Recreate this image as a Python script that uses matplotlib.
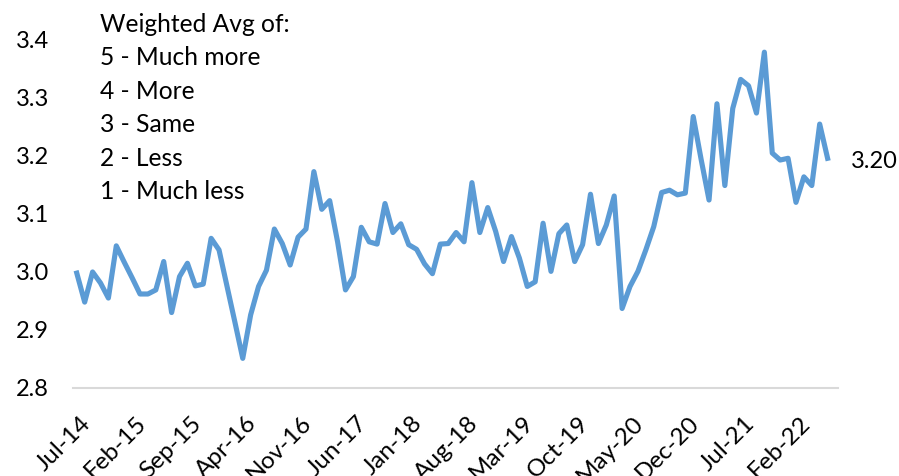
import matplotlib
matplotlib.use('Agg')
import matplotlib.pyplot as plt
import matplotlib.transforms as mtransforms

# monthly weighted average, Jul-14 .. Jun-22
values = [
    2.998, 2.948, 3.000, 2.981, 2.955, 3.045, 3.017, 2.990, 2.962, 2.962,
    2.969, 3.018, 2.930, 2.992, 3.015, 2.976, 2.979, 3.058, 3.038, 2.976,
    2.914, 2.851, 2.926, 2.975, 3.003, 3.074, 3.049, 3.012, 3.060, 3.074,
    3.173, 3.108, 3.123, 3.052, 2.969, 2.992, 3.077, 3.052, 3.048, 3.118,
    3.068, 3.083, 3.047, 3.039, 3.014, 2.997, 3.048, 3.049, 3.068, 3.052,
    3.154, 3.068, 3.111, 3.070, 3.018, 3.061, 3.024, 2.975, 2.983, 3.084,
    3.001, 3.066, 3.081, 3.018, 3.047, 3.134, 3.049, 3.081, 3.131, 2.937,
    2.975, 3.001, 3.038, 3.078, 3.137, 3.141, 3.133, 3.136, 3.268, 3.194,
    3.124, 3.290, 3.149, 3.282, 3.332, 3.321, 3.274, 3.379, 3.205, 3.193,
    3.196, 3.120, 3.164, 3.149, 3.255, 3.196,
]
tick_labels = ['Jul-14', 'Feb-15', 'Sep-15', 'Apr-16', 'Nov-16', 'Jun-17', 'Jan-18',
               'Aug-18', 'Mar-19', 'Oct-19', 'May-20', 'Dec-20', 'Jul-21', 'Feb-22']
y_ticks = [2.8, 2.9, 3.0, 3.1, 3.2, 3.3, 3.4]
legend_lines = ['Weighted Avg of:', '5 - Much more', '4 - More', '3 - Same', '2 - Less', '1 - Much less']

plt.rcParams['font.family'] = ['Lato', 'DejaVu Sans']
plt.rcParams['font.size'] = 17

fig = plt.figure(figsize=(8.99, 4.76), dpi=100)
ax = fig.add_axes([0.081, 0.185, 0.851, 0.731])

x = list(range(len(values)))
ax.plot(x, values, color='#5B9BD5', lw=3.7, solid_joinstyle='round', clip_on=False)

ax.set_xlim(-0.5, 96.3)
ax.set_ylim(2.8, 3.4)
ax.set_yticks(y_ticks)
ax.set_yticklabels([f'{v:.1f}' for v in y_ticks])
ax.set_xticks(x[::7])
ax.set_xticklabels(tick_labels, rotation=45, ha='right', rotation_mode='anchor', fontsize=17.5)
ax.tick_params(length=0)
ax.tick_params(axis='y', pad=17)
ax.tick_params(axis='x', pad=14)

# nudge the rotated labels so their ends sit at the ticks
offset = mtransforms.ScaledTranslation(3 / 100, -5 / 100, fig.dpi_scale_trans)
for lbl in ax.get_xticklabels():
    lbl.set_transform(lbl.get_transform() + offset)

for s in ['top', 'right', 'left']:
    ax.spines[s].set_visible(False)
ax.spines['bottom'].set_color('#D9D9D9')
ax.spines['bottom'].set_linewidth(1.5)

# last value label
ax.annotate(f'{values[-1]:.2f}', xy=(x[-1], values[-1]), xytext=(17, -2),
            textcoords='offset points', va='center', ha='left')

fig.text(100 / 899, 1 - 13 / 476, '\n'.join(legend_lines), va='top', ha='left',
         fontsize=17.7, linespacing=1.55)

fig.savefig('out.png', dpi=100)
